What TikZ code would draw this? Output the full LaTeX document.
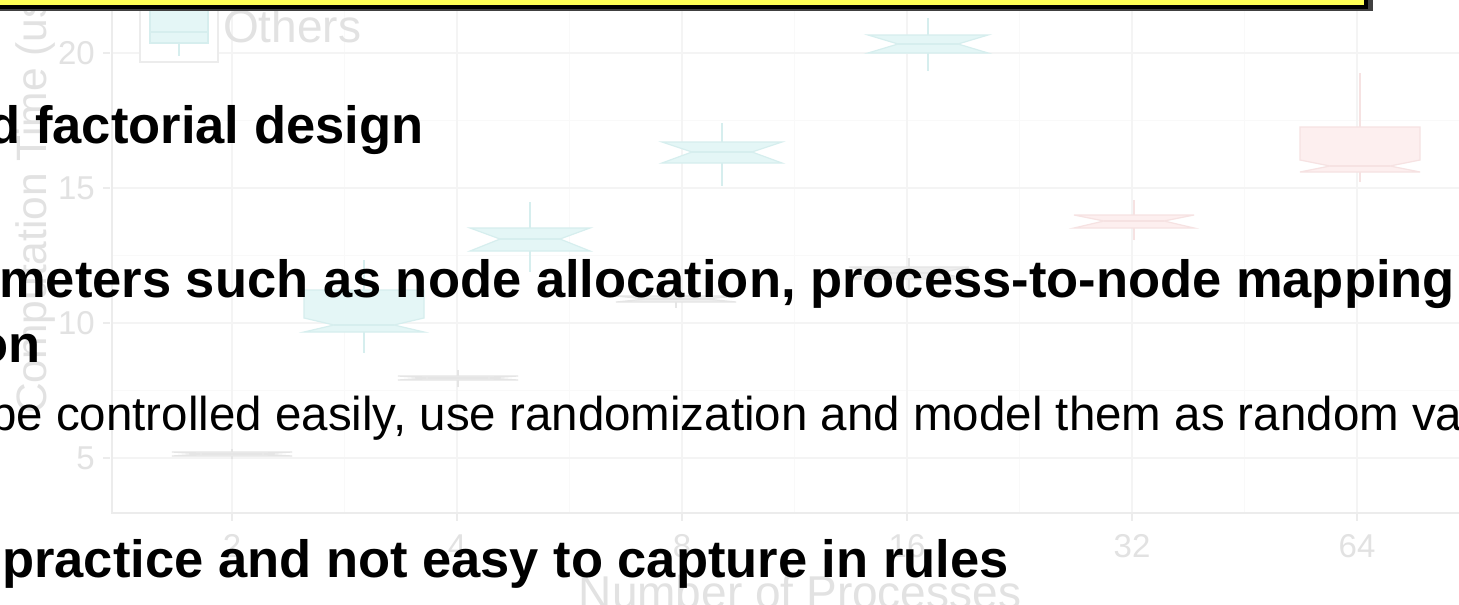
\documentclass[tikz,border=0pt]{standalone}
\usepackage{fontspec}
\setmainfont{Liberation Sans}

\definecolor{cyanfill}{RGB}{228,246,246}
\definecolor{cyanline}{RGB}{214,238,238}
\definecolor{redfill}{RGB}{253,239,239}
\definecolor{redline}{RGB}{246,226,226}
\definecolor{greyfill}{RGB}{238,238,238}
\definecolor{greyline}{RGB}{229,229,229}
\definecolor{axistext}{RGB}{226,226,226}
\definecolor{gridmajor}{RGB}{244,244,244}
\definecolor{gridminor}{RGB}{249,249,249}
\definecolor{panelline}{RGB}{236,236,236}
\definecolor{noteyellow}{RGB}{255,255,87}

\tikzset{
  bigtxt/.style={inner sep=0pt, font=\fontsize{52.5}{60}\selectfont\bfseries, text=black},
  midtxt/.style={inner sep=0pt, font=\fontsize{47.5}{56}\selectfont, text=black},
  axtitle/.style={inner sep=0pt, font=\fontsize{46}{52}\selectfont, text=axistext},
  ytitletxt/.style={inner sep=0pt, font=\fontsize{42.5}{50}\selectfont, text=axistext},
  ticktxt/.style={inner sep=0pt, font=\fontsize{33}{38}\selectfont, text=axistext},
  cyanbox/.style={fill=cyanfill, draw=cyanline, line width=1.2pt},
  redbox/.style={fill=redfill, draw=redline, line width=1.2pt},
  greybox/.style={fill=greyfill, draw=greyline, line width=1.2pt},
}

% notched box: style, centre x, top, notch top, median, notch bottom, bottom, whisker top, whisker bottom
\newcommand{\notchbox}[9]{%
  \draw[#1] (#2,#8) -- (#2,#9);
  \filldraw[#1] (#2-60,#3) -- (#2+60,#3) -- (#2+60,#4) -- (#2+30,#5) -- (#2+60,#6)
    -- (#2+60,#7) -- (#2-60,#7) -- (#2-60,#6) -- (#2-30,#5) -- (#2-60,#4) -- cycle;
  \draw[#1] (#2-30,#5) -- (#2+30,#5);
}

\begin{document}
\begin{tikzpicture}[x=1pt, y=-1pt]
\useasboundingbox (0,0) rectangle (1459,605);
\clip (0,0) rectangle (1459,605);
\fill[white] (0,0) rectangle (1459,605);

% ---- background chart: panel, grid and axes ----
\foreach \g in {120.5,255.5,390.5}
  \draw[gridminor, line width=1.2pt] (112,\g) -- (1459,\g);
\foreach \g in {344.5,569.5,794.5,1019.5,1244.5}
  \draw[gridminor, line width=1.2pt] (\g,0) -- (\g,513);
\foreach \g in {53,188,323,458}
  \draw[gridmajor, line width=1.5pt] (112,\g) -- (1459,\g);
\foreach \g in {232,457,682,907,1132,1357}
  \draw[gridmajor, line width=1.5pt] (\g,0) -- (\g,513);
\draw[panelline, line width=1.5pt] (112,0) -- (112,513) -- (1459,513);

% y axis ticks and labels
\foreach \v/\yy in {20/53,15/188,10/323,5/458} {
  \draw[panelline, line width=1.5pt] (103,\yy) -- (110,\yy);
  \node[ticktxt, anchor=east] (yt\v) at (95,\yy) {\v};
}
% x axis ticks and labels
\foreach \v/\xx in {2/232,4/457,8/682,16/907,32/1132,64/1357} {
  \draw[panelline, line width=1.5pt] (\xx,514) -- (\xx,521);
  \node[ticktxt, anchor=base] (xt\v) at (\xx,557) {\v};
}
\node[axtitle, anchor=base] (xtitle) at (800,608) {Number of Processes};
\node[ytitletxt, rotate=90, anchor=base west] (ytitle) at (46,414) {Computation Time (us)};

% legend
\draw[panelline, line width=1.2pt, fill=white] (140,-10) rectangle (218,62);
\draw[cyanline, line width=1.2pt] (179,43) -- (179,56);
\filldraw[cyanbox] (150,-20) rectangle (208,43);
\draw[cyanline, line width=1.2pt] (150,32) -- (208,32);
\node[axtitle, anchor=base west] (legOthers) at (223,42) {Others};

% boxes
\notchbox{greybox}{232}{452}{452}{454}{456}{456}{449}{459}
\notchbox{greybox}{458}{376}{376}{378}{380}{380}{370}{387}
\notchbox{greybox}{676}{296}{296}{299}{302}{302}{290}{308}
\notchbox{greybox}{909}{267}{267}{273}{279}{279}{258}{290}
\notchbox{cyanbox}{364}{290}{318}{325}{332}{332}{260}{353}
\notchbox{cyanbox}{530}{228}{228}{239}{251}{251}{202}{272}
\notchbox{cyanbox}{722}{142}{142}{152}{163}{163}{123}{186}
\notchbox{cyanbox}{928}{35}{35}{44}{53}{53}{18}{71}
\notchbox{redbox}{1134}{215}{215}{221}{228}{228}{200}{240}
\notchbox{redbox}{1360}{127}{160}{166}{172}{172}{73}{182}

% ---- highlighted note box (top) ----
\fill[black!75] (-40,-60) rectangle (1372.5,10.5);
\draw[fill=noteyellow, draw=black, line width=4pt] (-40,-60) rectangle (1365.5,7);

% ---- slide text ----
\node[bigtxt, anchor=base west] (line1) at (-11.6,143) {d factorial design};
\node[bigtxt, anchor=base west] (line2) at (-1,297) {meters such as node allocation, process-to-node mapping};
\node[bigtxt, anchor=base east] (line3) at (41,362) {on};
\node[midtxt, anchor=base west] (line4) at (-10,430) {be controlled easily, use randomization and model them as random va};
\node[bigtxt, anchor=base west] (line5) at (2,577) {practice and not easy to capture in rules};
\end{tikzpicture}
\end{document}
